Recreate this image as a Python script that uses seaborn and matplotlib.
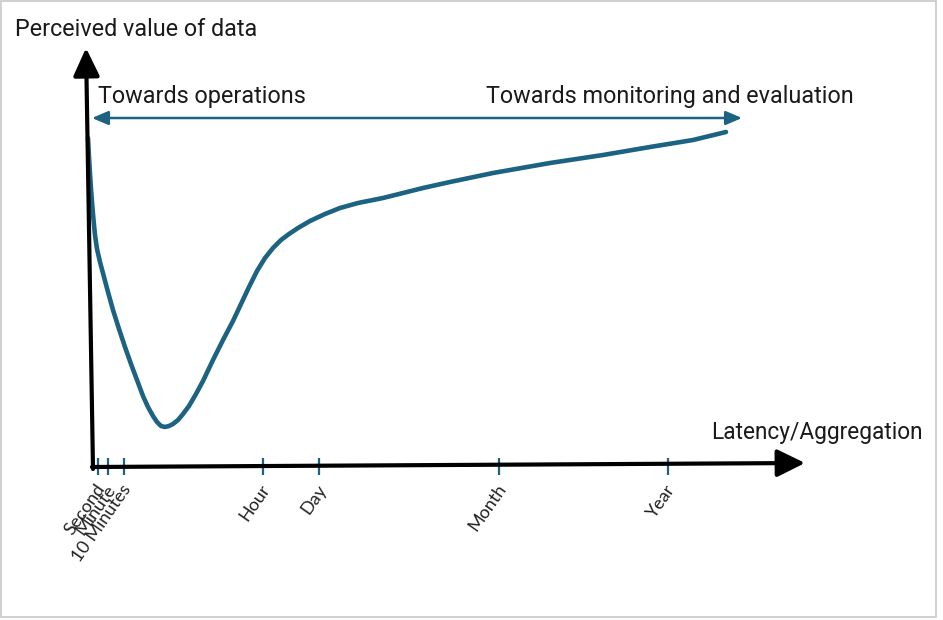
import matplotlib
matplotlib.use("Agg")
import matplotlib.pyplot as plt
from matplotlib.patches import Rectangle
import pandas as pd
import seaborn as sns

# ----------------------------------------------------
# Data (x = latency/aggregation position, y = perceived value)
# origin sits on the corner of the two drawn axes
# ----------------------------------------------------
CURVE_X = [-5, -4, -3, -2, -1, 0, 1, 2, 4, 7, 11, 15, 20, 26, 32, 38, 44, 50, 55,
           60, 64, 68, 72, 76, 80, 85, 90, 96, 103, 110, 120, 130, 140, 148,
           156, 164, 172, 180, 188, 196, 205, 217, 232, 247, 265, 290, 310,
           330, 357, 400, 457, 510, 557, 600, 633]
CURVE_Y = [329, 310, 293, 278, 265, 253, 242, 232, 218, 205, 190, 175, 157, 138, 120, 103, 87, 71, 60,
           51, 45, 41, 40, 41, 43, 47, 53, 61, 73, 86, 107, 127, 146, 163,
           180, 196, 209, 219, 227, 233, 239, 246, 253, 259, 264, 269, 274,
           279, 285, 294, 304, 312, 320, 327, 335]

TICK_POS = [5, 15, 31, 170, 226, 406, 575]
TICK_LABELS = ["Second", "Minute", "10 Minutes", "Hour", "Day", "Month", "Year"]

Y_LABEL = "Perceived value of data"
X_LABEL = "Latency/Aggregation"
LEFT_NOTE = "Towards operations"
RIGHT_NOTE = "Towards monitoring and evaluation"

BLUE = "#1c6282"

sns.set_theme(style="white")
plt.rcParams["font.family"] = ["Roboto", "DejaVu Sans"]

fig = plt.figure(figsize=(9.43, 6.2), dpi=100)
ax = fig.add_axes([0, 0, 1, 1])
ax.set_xlim(-93, 850)
ax.set_ylim(-153, 467)
ax.axis("off")

# light frame round the picture
fig.patches.append(Rectangle((0.001, 0.005), 0.992, 0.993, transform=fig.transFigure,
                             fill=False, edgecolor="#c8c8c8", linewidth=1.2))

# axes arrows
ax.annotate("", xy=(-7, 419), xytext=(0, -2),
            arrowprops=dict(arrowstyle="-|>,head_length=0.85,head_width=0.4",
                            mutation_scale=20, color="black", lw=3, shrinkA=0, shrinkB=0))
ax.annotate("", xy=(712, 4), xytext=(-1, 0),
            arrowprops=dict(arrowstyle="-|>,head_length=0.85,head_width=0.42",
                            mutation_scale=20, color="black", lw=3, shrinkA=0, shrinkB=0))

# double-headed range arrow
ax.annotate("", xy=(649, 349), xytext=(-1, 349),
            arrowprops=dict(arrowstyle="<|-|>,head_length=0.7,head_width=0.3",
                            mutation_scale=14, color=BLUE, lw=1.8, shrinkA=0, shrinkB=0))

# value curve
df = pd.DataFrame({"x": CURVE_X, "y": CURVE_Y})
sns.lineplot(data=df, x="x", y="y", sort=False, color=BLUE, linewidth=3.3,
             ax=ax, solid_capstyle="round", solid_joinstyle="round")

# tick marks on the latency axis
ax.vlines(TICK_POS, -8, 9, color=BLUE, linewidth=1.6)
for pos, lab in zip(TICK_POS, TICK_LABELS):
    ax.text(pos + 4, -19, lab, rotation=55, rotation_mode="anchor",
            ha="right", va="center", fontsize=13, color="#222222",
            family=["Lato", "DejaVu Sans"])

# texts
ax.text(-78, 438, Y_LABEL, fontsize=16.8, ha="left", va="center", color="#1a1a1a")
ax.text(5, 370, LEFT_NOTE, fontsize=16.8, ha="left", va="center", color="#1a1a1a")
ax.text(393, 370, RIGHT_NOTE, fontsize=16.8, ha="left", va="center", color="#1a1a1a")
ax.text(618, 34, X_LABEL, fontsize=16.3, ha="left", va="center", color="#1a1a1a")

fig.savefig("out.png", dpi=100)
